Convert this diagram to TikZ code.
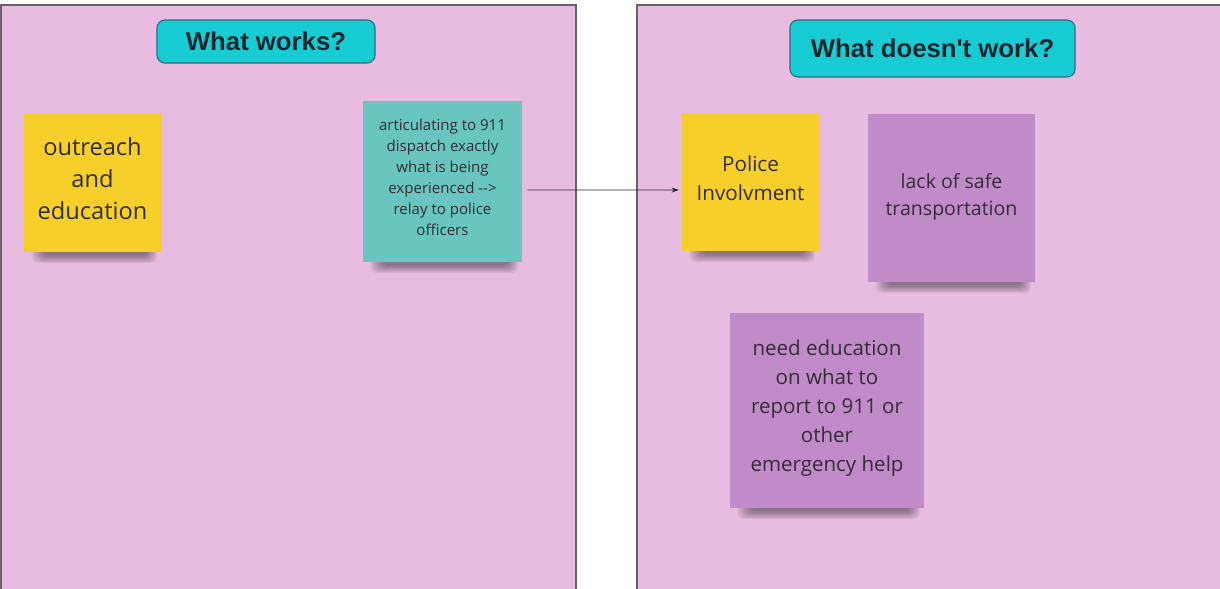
\documentclass[tikz,border=0pt]{standalone}
\usepackage{fontspec}
\setmainfont{Open Sans}
\newfontfamily\titlefont{Liberation Sans}
\usetikzlibrary{calc,arrows.meta}
\definecolor{panelbg}{RGB}{231,188,224}
\definecolor{panelline}{RGB}{105,95,108}
\definecolor{titlefill}{RGB}{24,204,212}
\definecolor{titleline}{RGB}{40,110,125}
\definecolor{titletext}{RGB}{22,38,46}
\definecolor{stickyyellow}{RGB}{246,207,42}
\definecolor{stickyteal}{RGB}{104,197,191}
\definecolor{stickypurple}{RGB}{193,138,201}
\definecolor{stickytext}{RGB}{52,44,54}
\pgfdeclarelayer{panels}
\pgfdeclarelayer{shadow}
\pgfsetlayers{panels,shadow,main}
\tikzset{
  panel/.style={fill=panelbg, draw=panelline, line width=0.8pt},
  titlebox/.style={fill=titlefill, draw=titleline, line width=0.8pt, rounded corners=0.2cm,
    text=titletext, font=\titlefont\bfseries\fontsize{18.3}{22}\selectfont, inner sep=0pt},
  sticky/.style={inner sep=0pt, align=center, text=stickytext},
  stickyshade/.style={fill=black, opacity=0.065, rounded corners=4pt},
  link/.style={-{Stealth[length=5pt,width=3.5pt]}, line width=0.5pt, draw=black!85}
}
\newcommand\stickyshadow[1]{%
  \foreach \i in {0,...,6}{%
    \fill[stickyshade] ($(#1.south west)+(20-2*\i,-14)$) rectangle ($(#1.south east)+(-14+1.6*\i,3+1.3*\i)$);
  }%
}
\begin{document}
\begin{tikzpicture}[x=0.025cm,y=-0.025cm]
\useasboundingbox (0,0) rectangle (1220,588);
\begin{pgfonlayer}{panels}
  \fill[white] (0,0) rectangle (1220,588);
  \begin{scope}
    \clip (0,0) rectangle (1220,588);
    \draw[panel] (1,5) rectangle (576,640);
    \draw[panel] (637,5) rectangle (1260,640);
  \end{scope}
\end{pgfonlayer}

\node[titlebox, minimum width=5.45cm, minimum height=1.075cm] (t1) at (266,41.5) {What works?};
\node[titlebox, minimum width=7.125cm, minimum height=1.425cm] (t2) at (932.5,48.5) {What doesn't work?};

\node[sticky, fill=stickyyellow, minimum width=3.425cm, minimum height=3.475cm, text depth=0.2cm,
  font=\fontsize{16.8}{22.8}\selectfont] (outreach) at (92.5,182.5) {outreach\\and\\education};
\node[sticky, fill=stickyteal, minimum width=3.975cm, minimum height=4.025cm, text depth=0.2cm,
  font=\fontsize{10.7}{15}\selectfont] (teal) at (442.5,181.5)
  {articulating to 911\\dispatch exactly\\what is being\\experienced -{}->\\relay to police\\officers};
\node[sticky, fill=stickyyellow, minimum width=3.425cm, minimum height=3.45cm, text depth=0.2cm,
  font=\fontsize{14.7}{20.6}\selectfont] (police) at (750.5,182) {Police\\Involvment};
\node[sticky, fill=stickypurple, minimum width=4.175cm, minimum height=4.2cm, text depth=0.15cm,
  font=\fontsize{13.9}{19.2}\selectfont] (lack) at (951.5,198) {lack of safe\\transportation};
\node[sticky, fill=stickypurple, minimum width=4.85cm, minimum height=4.875cm, text depth=0.225cm,
  font=\fontsize{14.6}{20.6}\selectfont] (need) at (827,410.5)
  {need education\\on what to\\report to 911 or\\other\\emergency help};

\begin{pgfonlayer}{shadow}
  \stickyshadow{outreach}
  \stickyshadow{teal}
  \stickyshadow{police}
  \stickyshadow{lack}
  \stickyshadow{need}
\end{pgfonlayer}

\draw[link] ($(teal.east)+(5,8.5)$) -- ($(police.west)+(-3,8)$);
\end{tikzpicture}
\end{document}
